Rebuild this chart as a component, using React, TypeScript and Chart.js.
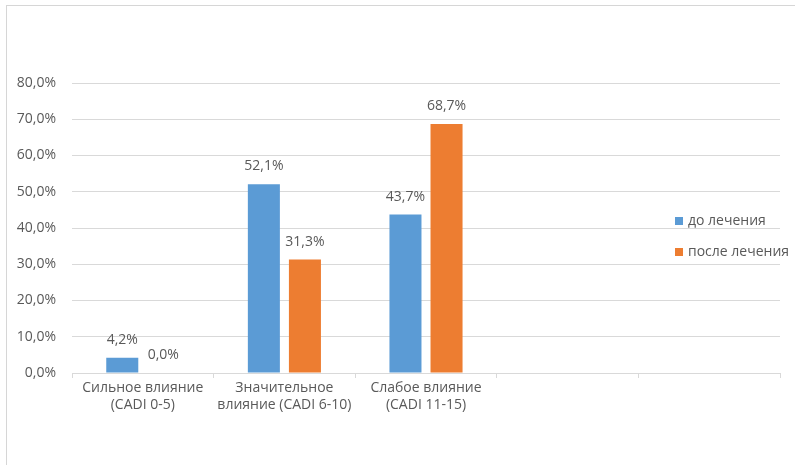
import React, { useEffect, useRef } from "react";
import { Chart, registerables } from "chart.js";

Chart.register(...registerables);

const categories: (string | string[])[] = [
  ["Сильное влияние", "(CADI 0-5)"],
  ["Значительное", "влияние (CADI 6-10)"],
  ["Слабое влияние", "(CADI 11-15)"],
  "",
  "",
];
const seriesNames = ["до лечения", "после лечения"];
const beforeValues: (number | null)[] = [4.2, 52.1, 43.7, null, null];
const afterValues: (number | null)[] = [0.0, 31.3, 68.7, null, null];
const seriesColors = ["#5B9BD5", "#ED7D31"];

const FONT = "'Open Sans', 'Noto Sans', sans-serif";
const TEXT = "#595959";
const GRID = "#d9d9d9";
const FS = 14;

const fmt = (v: number) => v.toFixed(1).replace(".", ",") + "%";

const labelPlugin = {
  id: "valueLabels",
  afterDatasetsDraw(chart: any) {
    const ctx = chart.ctx;
    ctx.save();
    ctx.font = `${FS}px ${FONT}`;
    ctx.fillStyle = TEXT;
    ctx.textAlign = "center";
    ctx.textBaseline = "middle";
    chart.data.datasets.forEach((ds: any, i: number) => {
      const meta = chart.getDatasetMeta(i);
      meta.data.forEach((bar: any, j: number) => {
        const v = ds.data[j];
        if (v === null || v === undefined) return;
        ctx.fillText(fmt(v), bar.x, bar.y - 18);
      });
    });
    ctx.restore();
  },
};

const legendPlugin = {
  id: "customLegend",
  afterDraw(chart: any) {
    const ctx = chart.ctx;
    ctx.save();
    ctx.font = `${FS}px ${FONT}`;
    ctx.textBaseline = "middle";
    ctx.textAlign = "left";
    const x = 675;
    const ys = [221, 252];
    chart.data.datasets.forEach((ds: any, i: number) => {
      ctx.fillStyle = ds.backgroundColor;
      ctx.fillRect(x, ys[i] - 4, 8, 8);
      ctx.fillStyle = TEXT;
      ctx.fillText(ds.label, x + 13, ys[i]);
    });
    ctx.restore();
  },
};

export default function App() {
  const ref = useRef<HTMLCanvasElement>(null);
  useEffect(() => {
    if (!ref.current) return;
    const chart = new Chart(ref.current, {
      type: "bar",
      data: {
        labels: categories,
        datasets: [
          {
            label: seriesNames[0],
            data: beforeValues,
            backgroundColor: seriesColors[0],
            categoryPercentage: 0.58,
            barPercentage: 0.78,
          },
          {
            label: seriesNames[1],
            data: afterValues,
            backgroundColor: seriesColors[1],
            categoryPercentage: 0.58,
            barPercentage: 0.78,
          },
        ],
      },
      options: {
        responsive: false,
        animation: false,
        layout: { padding: { top: 83, right: 15, bottom: 0, left: 0 } },
        plugins: {
          legend: { display: false },
          tooltip: { enabled: false },
        },
        scales: {
          x: {
            grid: {
              offset: true,
              drawOnChartArea: false,
              drawTicks: true,
              tickLength: 5,
              color: GRID,
            },
            border: { display: true, color: GRID },
            ticks: {
              color: TEXT,
              font: { family: FONT, size: FS, lineHeight: 1.25 },
              padding: 1,
              maxRotation: 0,
              autoSkip: false,
            },
            afterFit: (s: any) => {
              s.height = 92;
            },
          },
          y: {
            min: 0,
            max: 80,
            grid: { color: GRID, drawTicks: false },
            border: { display: false },
            ticks: {
              stepSize: 10,
              color: TEXT,
              font: { family: FONT, size: FS },
              padding: 16,
              callback: (v: any) => fmt(Number(v)),
            },
            afterFit: (s: any) => {
              s.width = 72;
            },
          },
        },
      },
      plugins: [labelPlugin, legendPlugin],
    });
    return () => chart.destroy();
  }, []);

  return (
    <div style={{ position: "fixed", left: 0, top: 0, width: 795, height: 465, background: "#fff" }}>
      <div
        style={{
          position: "absolute",
          left: 6,
          top: 5,
          width: 820,
          height: 500,
          border: "1px solid #d6d6d6",
          boxSizing: "border-box",
        }}
      />
      <canvas ref={ref} width={795} height={465} style={{ position: "absolute", left: 0, top: 0 }} />
    </div>
  );
}
